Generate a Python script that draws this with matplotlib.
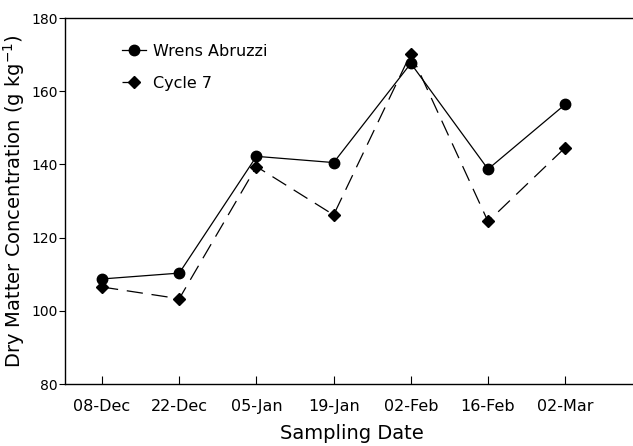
import matplotlib
matplotlib.use("Agg")
import matplotlib.pyplot as plt

dates = ["08-Dec", "22-Dec", "05-Jan", "19-Jan", "02-Feb", "16-Feb", "02-Mar"]
wrens_abruzzi = [108.7, 110.3, 142.2, 140.5, 167.6, 138.7, 156.4]
cycle_7 = [106.5, 103.3, 139.4, 126.2, 170.3, 124.4, 144.6]
y_ticks = [80, 100, 120, 140, 160, 180]

plt.rcParams["font.family"] = "DejaVu Sans"

fig = plt.figure(figsize=(6.33, 4.46), dpi=100)
ax = fig.add_axes([65 / 633, 1 - 384 / 446, 1.0, 366 / 446])

x = list(range(len(dates)))
ax.plot(x, wrens_abruzzi, color="black", lw=0.9, marker="o", ms=7.5,
        label="Wrens Abruzzi")
ax.plot(x, cycle_7, color="black", lw=0.9, marker="D", ms=6.5,
        dashes=(13, 7), label="Cycle 7")

ax.set_xlim(-0.48, 7.72)
ax.set_ylim(80, 180)
ax.set_xticks(x)
ax.set_xticklabels(dates)
ax.set_yticks(y_ticks)

ax.spines["right"].set_visible(False)
for s in ("left", "bottom", "top"):
    ax.spines[s].set_linewidth(1.0)

ax.tick_params(axis="x", direction="in", length=6, width=0.8, pad=11,
               labelsize=11.5)
ax.tick_params(axis="y", direction="out", length=4, width=0.8, pad=1,
               labelsize=10)

ax.set_xlabel("Sampling Date", fontsize=14)
ax.xaxis.set_label_coords(0.453, -0.11)
ax.set_ylabel("Dry Matter Concentration (g kg$^{-1}$)", fontsize=14)
ax.yaxis.set_label_coords(-0.06, 0.5)

leg = ax.legend(loc="upper left", bbox_to_anchor=(0.068, 0.968), frameon=False,
                fontsize=11.5, handlelength=1.45, handletextpad=0.45,
                labelspacing=1.05)

fig.savefig("out.png", dpi=100)
